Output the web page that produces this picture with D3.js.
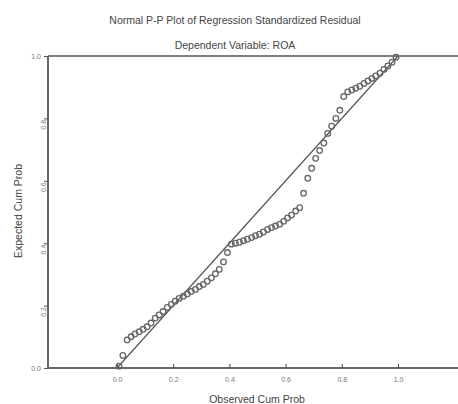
<!DOCTYPE html>
<html>
<head>
<meta charset="utf-8">
<script src="https://cdn.jsdelivr.net/npm/d3@7"></script>
<style>
  body { margin: 0; background: #fff; }
  svg { display: block; font-family: "Liberation Sans", Arial, sans-serif; }
</style>
</head>
<body>
<div id="chart"></div>
<script>
// observed cumulative probability (x) and expected cumulative probability (y)
const observed = [0.007, 0.021, 0.036, 0.05, 0.064, 0.079, 0.093, 0.107, 0.121, 0.136,
  0.15, 0.164, 0.179, 0.193, 0.207, 0.221, 0.236, 0.25, 0.264, 0.279,
  0.293, 0.307, 0.321, 0.336, 0.35, 0.364, 0.379, 0.393, 0.407, 0.421,
  0.436, 0.45, 0.464, 0.479, 0.493, 0.507, 0.521, 0.536, 0.55, 0.564,
  0.579, 0.593, 0.607, 0.621, 0.636, 0.65, 0.664, 0.679, 0.693, 0.707,
  0.721, 0.736, 0.75, 0.764, 0.779, 0.793, 0.807, 0.821, 0.836, 0.85,
  0.864, 0.879, 0.893, 0.907, 0.921, 0.936, 0.95, 0.964, 0.979, 0.993];
const expected = [0.006, 0.04, 0.09, 0.1, 0.109, 0.116, 0.124, 0.132, 0.144, 0.16,
  0.17, 0.181, 0.194, 0.204, 0.214, 0.223, 0.23, 0.237, 0.245, 0.252,
  0.261, 0.268, 0.278, 0.289, 0.302, 0.316, 0.34, 0.37, 0.397, 0.4,
  0.403, 0.408, 0.413, 0.418, 0.424, 0.429, 0.436, 0.444, 0.45, 0.455,
  0.461, 0.47, 0.481, 0.49, 0.503, 0.514, 0.56, 0.608, 0.64, 0.672,
  0.697, 0.721, 0.752, 0.775, 0.8, 0.826, 0.87, 0.885, 0.891, 0.897,
  0.903, 0.912, 0.92, 0.928, 0.936, 0.945, 0.957, 0.968, 0.98, 0.996];
const tickValues = [0, 0.2, 0.4, 0.6, 0.8, 1.0];

const width = 458, height = 404;
const frameLeft = 48, frameRight = 458;

const svg = d3.select("#chart")
    .append("svg")
    .attr("width", width)
    .attr("height", height);

const x = d3.scaleLinear().domain([0, 1]).range([117, 398]);
const y = d3.scaleLinear().domain([0, 1]).range([368, 56]);

const data = observed.map((d, i) => ({ obs: d, exp: expected[i] }));

// frame lines
svg.append("line")
    .attr("x1", frameLeft).attr("x2", frameRight)
    .attr("y1", y(1)).attr("y2", y(1))
    .attr("stroke", "#555").attr("stroke-width", 1.6);
svg.append("line")
    .attr("x1", frameLeft).attr("x2", frameRight)
    .attr("y1", y(0)).attr("y2", y(0))
    .attr("stroke", "#666").attr("stroke-width", 2);
svg.append("line")
    .attr("x1", frameLeft).attr("x2", frameLeft)
    .attr("y1", y(1)).attr("y2", y(0))
    .attr("stroke", "#666").attr("stroke-width", 2);

// x axis ticks
const xAxis = svg.append("g")
    .attr("transform", `translate(0,${y(0)})`)
    .call(d3.axisBottom(x).tickValues(tickValues).tickSize(-4).tickPadding(9)
        .tickFormat(d3.format(".1f")));
xAxis.select(".domain").remove();
xAxis.selectAll("line").attr("stroke", "#444");
xAxis.selectAll("text").attr("fill", "#777").style("font-size", "7px");

// y axis ticks
const yAxis = svg.append("g")
    .attr("transform", `translate(${frameLeft},0)`)
    .call(d3.axisLeft(y).tickValues(tickValues).tickSize(4).tickPadding(3)
        .tickFormat(d3.format(".1f")));
yAxis.select(".domain").remove();
yAxis.selectAll("line").attr("stroke", "#555");
yAxis.selectAll("text")
    .attr("fill", "#777")
    .style("font-size", "7px")
    .attr("transform", d => (d > 0 && d < 1) ? "rotate(-90,-10,0) translate(-4,6)" : null);

// reference diagonal
svg.append("line")
    .attr("x1", x(0)).attr("y1", y(0))
    .attr("x2", x(1)).attr("y2", y(1))
    .attr("stroke", "#555").attr("stroke-width", 1.2);

// points
svg.selectAll("circle.pt")
    .data(data)
    .enter()
    .append("circle")
    .attr("class", "pt")
    .attr("cx", d => x(d.obs))
    .attr("cy", d => y(d.exp))
    .attr("r", 2.8)
    .attr("fill", "none")
    .attr("stroke", "#666")
    .attr("stroke-width", 1.3);

// titles
svg.append("text")
    .attr("x", 235).attr("y", 24)
    .attr("text-anchor", "middle")
    .attr("fill", "#444")
    .style("font-size", "10.5px")
    .text("Normal P-P Plot of Regression Standardized Residual");

svg.append("text")
    .attr("x", 235).attr("y", 49)
    .attr("text-anchor", "middle")
    .attr("fill", "#444")
    .style("font-size", "10.5px")
    .text("Dependent Variable: ROA");

svg.append("text")
    .attr("x", 257).attr("y", 403)
    .attr("text-anchor", "middle")
    .attr("fill", "#444")
    .style("font-size", "10.5px")
    .text("Observed Cum Prob");

svg.append("text")
    .attr("transform", "rotate(-90)")
    .attr("x", -211).attr("y", 22)
    .attr("text-anchor", "middle")
    .attr("fill", "#444")
    .style("font-size", "10.5px")
    .text("Expected Cum Prob");
</script>
</body>
</html>
